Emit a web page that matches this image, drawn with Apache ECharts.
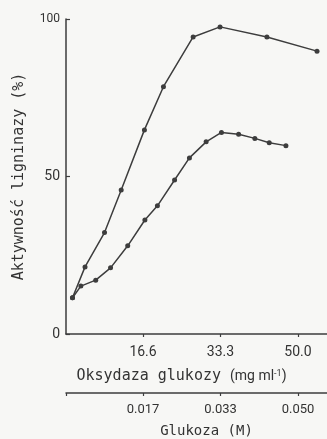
<!DOCTYPE html>
<html>
<head>
<meta charset="utf-8">
<script src="https://cdn.jsdelivr.net/npm/echarts@6/dist/echarts.min.js"></script>
<style>
html, body { margin: 0; padding: 0; background: #f7f7f5; }
#chart { width: 327px; height: 439px; }
</style>
</head>
<body>
<div id="chart"></div>
<script>
// oksydaza glukozy (mg/ml) i aktywnosc (%) - krzywa gorna
var upperX = [1.4, 4.1, 8.3, 11.9, 16.9, 21.0, 27.4, 33.2, 43.3, 54.1];
var upperY = [11.5, 21.3, 32.2, 45.7, 64.8, 78.5, 94.3, 97.5, 94.3, 89.8];
// krzywa dolna
var lowerX = [1.4, 3.2, 6.4, 9.6, 13.3, 17.0, 19.7, 23.4, 26.6, 30.2, 33.5, 37.2, 40.7, 43.8, 47.4];
var lowerY = [11.5, 15.2, 17.1, 21.0, 28.0, 36.2, 40.7, 48.9, 55.9, 61.0, 64.0, 63.4, 62.1, 60.7, 59.8];
// podzialki osi
var oxidaseTicks = [16.6, 33.3, 50.0];
var glucoseLabels = ['0.017', '0.033', '0.050'];
var yTicks = [0, 50, 100];

var ink = '#3d3d3d';
var chart = null;

initChart();

function pairs(xs, ys) {
	var out = [];
	for (var i = 0; i < xs.length; i++) {
		out.push([xs[i], ys[i]]);
	}
	return out;
}

function lineSeries(xs, ys) {
	return {
		type: 'line',
		data: pairs(xs, ys),
		xAxisIndex: 0,
		symbol: 'circle',
		symbolSize: 5,
		lineStyle: {color: ink, width: 1.5},
		itemStyle: {color: ink},
		animation: false
	};
}

function initChart() {
	chart = echarts.init(document.getElementById('chart'));

	var option = {
		backgroundColor: '#f7f7f5',
		grid: {
			left: 66,
			top: 19,
			right: 0,
			bottom: 105,
			containLabel: false,
			outerBoundsMode: 'none'
		},
		xAxis: [{
			type: 'value',
			min: 0,
			max: 56.25,
			position: 'bottom',
			splitLine: {show: false},
			axisLine: {show: true, onZero: false, lineStyle: {color: ink, width: 1.5}},
			axisTick: {show: true, length: 3, customValues: oxidaseTicks, lineStyle: {color: ink, width: 1.2}},
			axisLabel: {
				customValues: oxidaseTicks,
				margin: 11,
				color: '#333',
				fontFamily: 'Roboto',
				fontSize: 14,
				formatter: function (v) {
					return v.toFixed(1);
				}
			},
			name: 'Oksydaza glukozy {p|(mg ml}{sup|-1}{p|)}',
			nameLocation: 'middle',
			nameGap: 35,
			nameTextStyle: {
				color: '#333',
				fontFamily: 'DejaVu Sans Mono',
				fontSize: 15,
				padding: [0, 30, 0, 0],
				rich: {
					p: {fontFamily: 'Roboto', fontSize: 14, color: '#333'},
					sup: {fontFamily: 'Roboto', fontSize: 9, color: '#333', verticalAlign: 'top', padding: [0, 0, 6, 0]}
				}
			}
		}, {
			type: 'value',
			min: 0,
			max: 56.25,
			position: 'bottom',
			offset: 59,
			splitLine: {show: false},
			axisLine: {show: true, onZero: false, lineStyle: {color: ink, width: 1.5}},
			axisTick: {show: true, length: 3, customValues: [0].concat(oxidaseTicks), lineStyle: {color: ink, width: 1.2}},
			axisLabel: {
				customValues: oxidaseTicks,
				margin: 10,
				color: '#333',
				fontFamily: 'Roboto',
				fontSize: 13,
				formatter: function (v) {
					return glucoseLabels[oxidaseTicks.indexOf(v)];
				}
			},
			name: 'Glukoza (M)',
			nameLocation: 'middle',
			nameGap: 31,
			nameTextStyle: {
				color: '#333',
				fontFamily: 'DejaVu Sans Mono',
				fontSize: 14,
				padding: [0, 0, 0, 20]
			}
		}],
		yAxis: {
			type: 'value',
			min: 0,
			max: 100,
			interval: 50,
			splitLine: {show: false},
			axisLine: {show: true, lineStyle: {color: ink, width: 1.5}},
			axisTick: {show: true, inside: true, length: 4, lineStyle: {color: ink, width: 1.2}},
			axisLabel: {
				customValues: yTicks,
				margin: 6,
				color: '#333',
				fontFamily: 'Roboto',
				fontSize: 14,
				formatter: function (v) {
					return v === 100 ? '{s|100}' : String(v);
				},
				rich: {
					s: {fontFamily: 'Roboto', fontSize: 12, color: '#333'}
				}
			},
			name: 'Aktywność ligninazy (%)',
			nameLocation: 'middle',
			nameRotate: 90,
			nameGap: 39,
			nameTextStyle: {
				color: '#333',
				fontFamily: 'DejaVu Sans Mono',
				fontSize: 15
			}
		},
		series: [
			lineSeries(upperX, upperY),
			lineSeries(lowerX, lowerY)
		]
	};

	chart.setOption(option);
	window.addEventListener('resize', function () {
		chart.resize();
	});
}
</script>
</body>
</html>
